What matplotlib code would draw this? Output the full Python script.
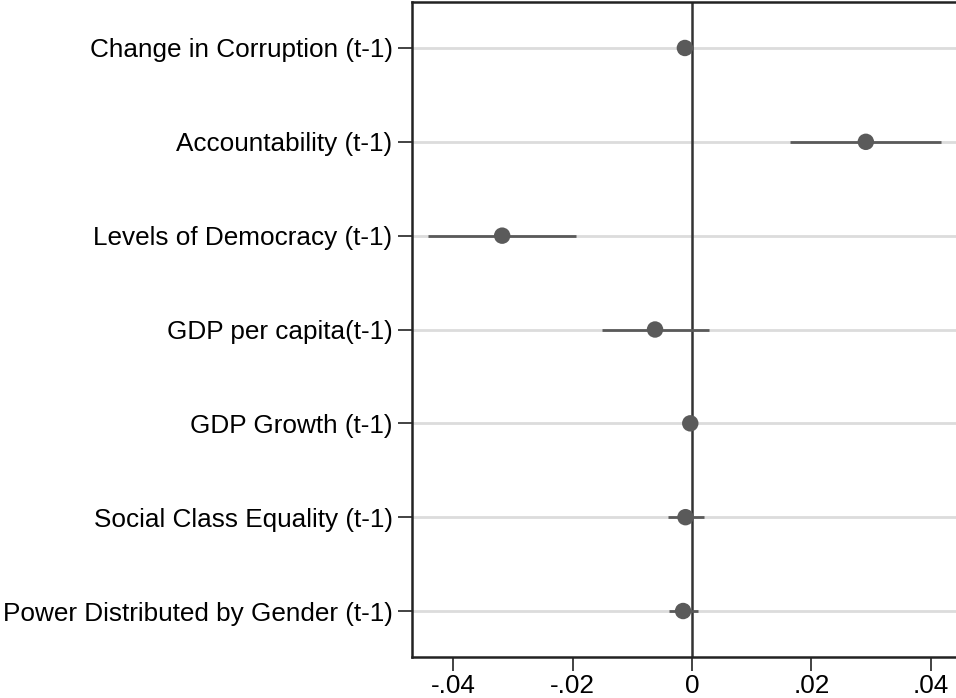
import matplotlib
matplotlib.use("Agg")
import matplotlib.pyplot as plt
import numpy as np

plt.rcParams['font.family'] = ['Liberation Sans', 'DejaVu Sans']

labels = [
    "Change in Corruption (t-1)",
    "Accountability (t-1)",
    "Levels of Democracy (t-1)",
    "GDP per capita(t-1)",
    "GDP Growth (t-1)",
    "Social Class Equality (t-1)",
    "Power Distributed by Gender (t-1)",
]
coef = [-0.0012, 0.0291, -0.0318, -0.0062, -0.0003, -0.0011, -0.0015]
ci_low = [-0.0014, 0.0164, -0.0442, -0.0151, -0.0005, -0.0041, -0.0039]
ci_high = [-0.0010, 0.0417, -0.0194, 0.0029, -0.0001, 0.0020, 0.0010]
xticks = [-0.04, -0.02, 0, 0.02, 0.04]
xticklabels = ["-.04", "-.02", "0", ".02", ".04"]

W, H = 956, 698
fig = plt.figure(figsize=(W / 100, H / 100), dpi=100)
ax = fig.add_axes([412 / W, 1 - 657 / H, 1 - 412 / W, (657 - 2) / H])

pos = np.arange(1, len(labels) + 1)
dark = "#5a5a5a"

for y in pos:
    ax.axhline(y, color="#dcdcdc", lw=2, zorder=0)
ax.axvline(0, color="#333333", lw=1.8, zorder=1)

ax.hlines(pos, ci_low, ci_high, color=dark, lw=2, zorder=2)
ax.scatter(coef, pos, s=140, color=dark, zorder=3, edgecolors="none")

ax.set_ylim(7.49, 0.51)
ax.set_xlim(-0.0469, 0.0442)
ax.set_yticks(pos)
ax.set_yticklabels(labels, fontsize=18.8)
ax.set_xticks(xticks)
ax.set_xticklabels(xticklabels, fontsize=18.8)
ax.tick_params(axis="y", length=10, width=1.2, pad=4, colors="#222222")
ax.tick_params(axis="x", length=10, width=1.2, pad=2, colors="#222222")
for lab in ax.get_xticklabels() + ax.get_yticklabels():
    lab.set_color("black")

for side in ["left", "top", "bottom"]:
    ax.spines[side].set_linewidth(1.8)
    ax.spines[side].set_color("#222222")
ax.spines["right"].set_visible(False)

fig.savefig("out.png", dpi=100)
